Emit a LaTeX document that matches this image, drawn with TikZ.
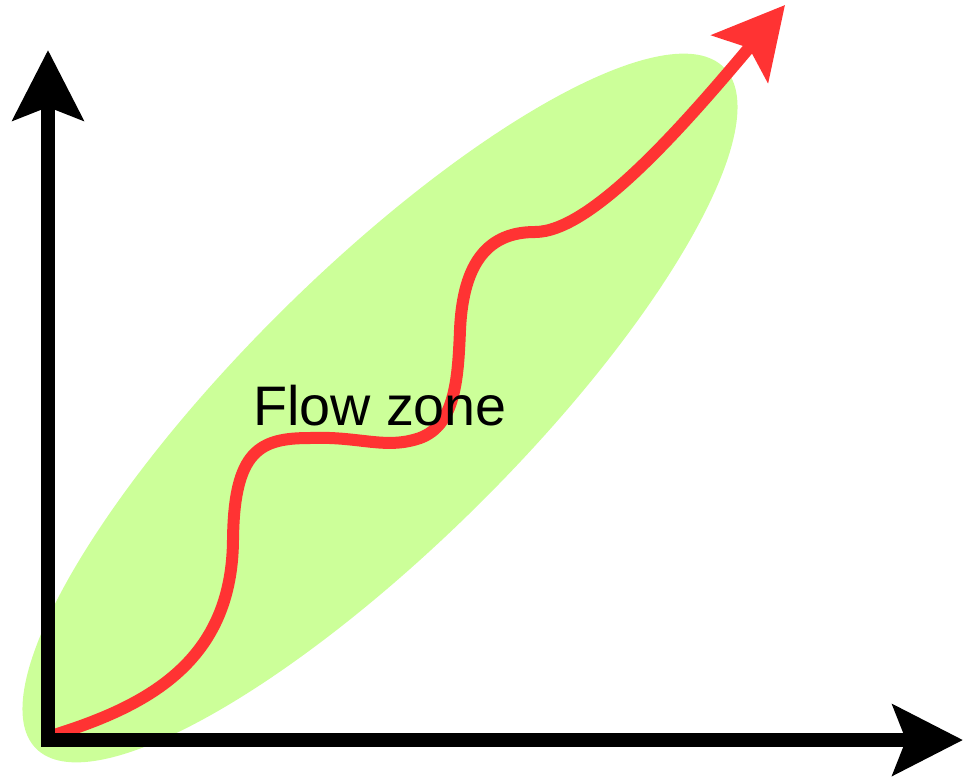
\documentclass[tikz,border=0pt]{standalone}
\usepackage{fontspec}
\setmainfont{Liberation Sans}
\usepackage{xcolor}
\usepackage{tikz}
\usetikzlibrary{arrows.meta}

\definecolor{zonegreen}{HTML}{CCFF99}
\definecolor{flowred}{HTML}{FF3333}

\begin{document}
\begin{tikzpicture}[x=0.02cm, y=-0.02cm,
    axis/.style={line width=0.28cm, line cap=rect, -{Stealth[length=1.4cm, width=1.4cm, inset=0.26cm]}},
    flow/.style={flowred, line width=0.24cm, -{Stealth[length=1.4cm, width=1.46cm, inset=0.28cm]}}]
    \useasboundingbox (0,0) rectangle (963,778);

    % Zone
    \fill[zonegreen, rotate around={44.7:(380,408)}] (380,408) ellipse [x radius=484, y radius=138];

    % Points
    \coordinate (origin) at (48,740);
    \coordinate (ytip) at (48,50);
    \coordinate (xtip) at (963,740);
    \coordinate (start) at (54,735);
    \coordinate (peak) at (785,5);

    % Flow curve
    \draw[flow] (start) .. controls (150,705) and (232,660) .. (233,540)
        .. controls (234,450) and (260,438) .. (310,438)
        .. controls (360,436) and (385,450) .. (420,438)
        .. controls (455,425) and (458,380) .. (460,330)
        .. controls (463,260) and (490,232) .. (535,232)
        .. controls (590,232) and (680,130) .. (peak);

    % Axes
    \draw[axis] (origin) -- (ytip);
    \draw[axis] (origin) -- (xtip);

    % Label
    \node[anchor=base, font=\fontsize{31.7}{38}\selectfont] (label) at (380,425) {Flow zone};
\end{tikzpicture}
\end{document}
